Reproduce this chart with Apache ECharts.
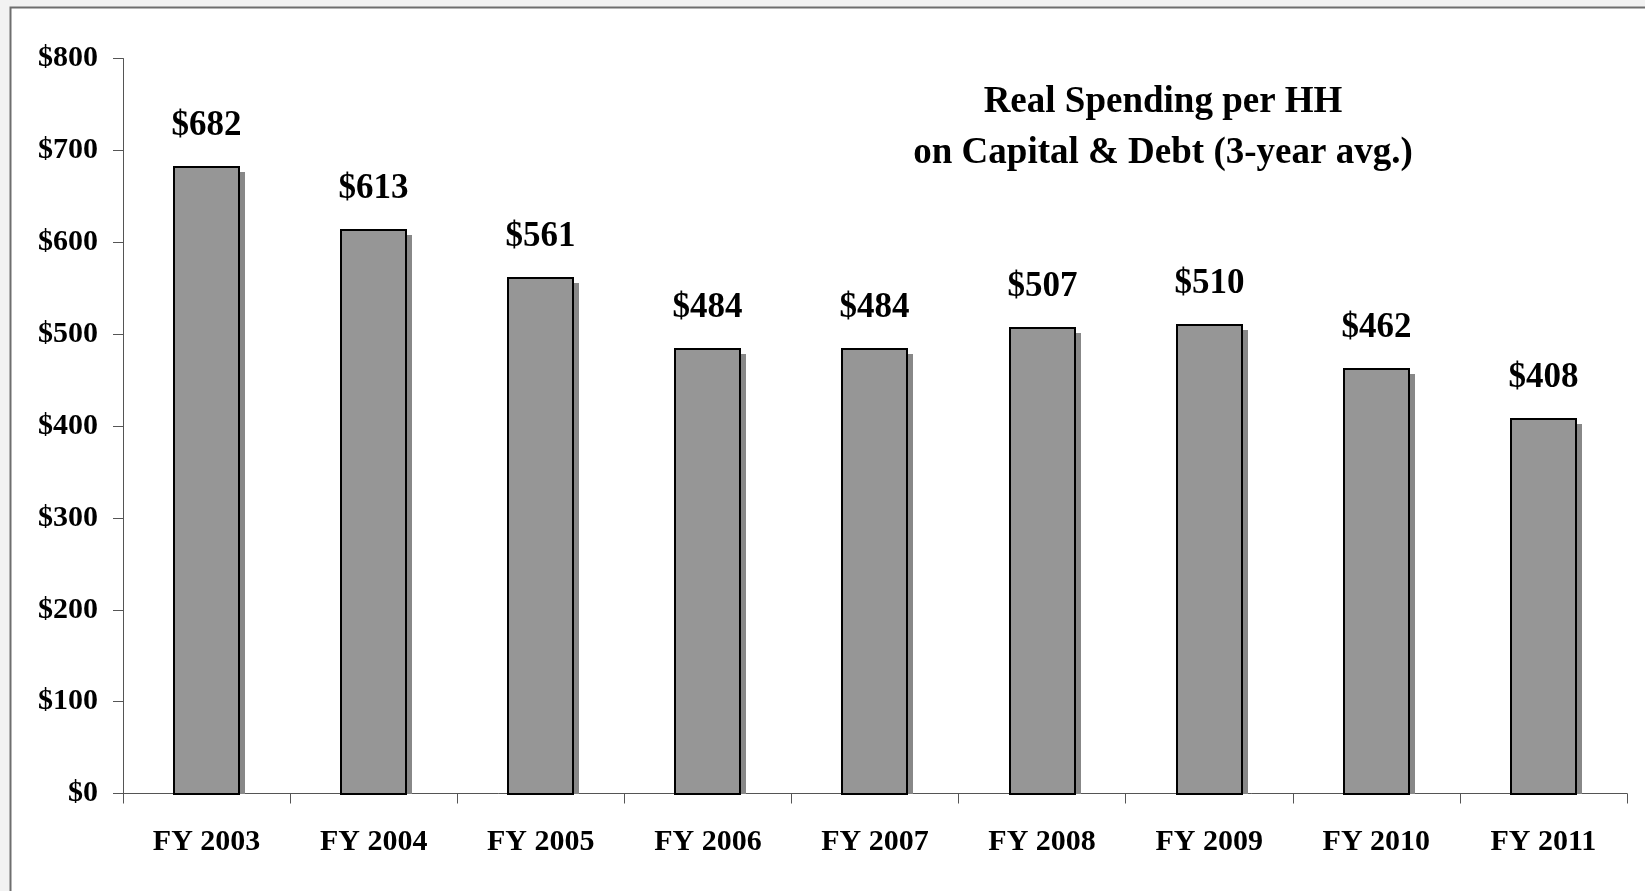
<!DOCTYPE html>
<html>
<head>
<meta charset="utf-8">
<script src="https://cdn.jsdelivr.net/npm/echarts@6/dist/echarts.min.js"></script>
<style>
html,body{margin:0;padding:0;background:#f2f2f2;overflow:hidden;}
#chart{width:1645px;height:891px;}
</style>
</head>
<body>
<div id="chart"></div>
<script>
const categories = ['FY 2003','FY 2004','FY 2005','FY 2006','FY 2007','FY 2008','FY 2009','FY 2010','FY 2011'];
const values = [682, 613, 561, 484, 484, 507, 510, 462, 408];
const titleLines = ['Real Spending per HH', 'on Capital & Debt (3-year avg.)'];
const yMin = 0, yMax = 800, yStep = 100;

const FONT = '"Liberation Serif", "Times New Roman", serif';
const chart = echarts.init(document.getElementById('chart'));
chart.setOption({
  backgroundColor: '#f2f2f2',
  animation: false,
  graphic: [{
    type: 'rect', z: -10, silent: true,
    shape: {x: 10.5, y: 7.5, width: 1700, height: 1000},
    style: {fill: '#ffffff', stroke: '#6e6e6e', lineWidth: 2}
  }],
  title: {
    text: titleLines.join('\n'),
    left: 1158, top: 72, textAlign: 'center',
    textStyle: {fontFamily: FONT, fontWeight: 'bold', fontSize: 37, lineHeight: 51, color: '#000'}
  },
  grid: {left: 123, right: 18, top: 58.5, bottom: 97.5},
  xAxis: {
    type: 'category', data: categories,
    axisLine: {lineStyle: {color: '#555', width: 1}},
    axisTick: {show: true, length: 10, lineStyle: {color: '#555'}},
    axisLabel: {margin: 34, fontFamily: FONT, fontWeight: 'bold', fontSize: 30, color: '#000'}
  },
  yAxis: {
    type: 'value', min: yMin, max: yMax, interval: yStep,
    splitLine: {show: false},
    axisLine: {show: true, lineStyle: {color: '#555', width: 1}},
    axisTick: {show: true, length: 10, lineStyle: {color: '#555'}},
    axisLabel: {margin: 25, fontFamily: FONT, fontWeight: 'bold', fontSize: 30, color: '#000',
      formatter: v => '$' + v}
  },
  series: [{
    type: 'custom',
    data: values.map((v, i) => [i, v]),
    encode: {x: 0, y: 1},
    renderItem: function (params, api) {
      const v = api.value(1);
      const top = api.coord([api.value(0), v]);
      const base = api.coord([api.value(0), 0]);
      const w = Math.round(api.size([1, 0])[0] * 0.39);
      const x = Math.round(top[0] - w / 2);
      const y = Math.round(top[1]);
      const b = Math.round(base[1]);
      return {
        type: 'group',
        children: [
          {type: 'rect', shape: {x: x + 6, y: y + 5, width: w, height: b - y - 5},
            style: {fill: '#888888'}},
          {type: 'rect', shape: {x: x, y: y, width: w, height: b - y},
            style: {fill: '#969696', stroke: '#000', lineWidth: 2},
            textContent: {style: {text: '$' + v, fontFamily: FONT, fontWeight: 'bold', fontSize: 35, fill: '#000'}},
            textConfig: {position: 'top', distance: 23}}
        ]
      };
    }
  }]
});
</script>
</body>
</html>
